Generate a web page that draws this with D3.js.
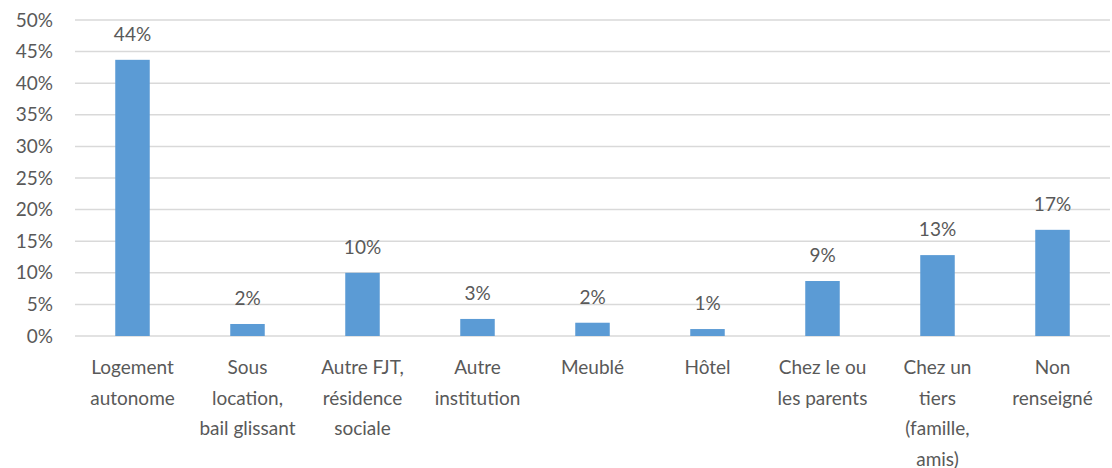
<!DOCTYPE html>
<html>
<head>
<meta charset="utf-8">
<script src="https://cdn.jsdelivr.net/npm/d3@7"></script>
<style>
  body { margin: 0; background: #fff; }
  text { font-family: Lato, "Open Sans", sans-serif; fill: #595959; }
</style>
</head>
<body>
<div id="chart"></div>
<script>
const categories = [
    ["Logement", "autonome"],
    ["Sous", "location,", "bail glissant"],
    ["Autre FJT,", "résidence", "sociale"],
    ["Autre", "institution"],
    ["Meublé"],
    ["Hôtel"],
    ["Chez le ou", "les parents"],
    ["Chez un", "tiers", "(famille,", "amis)"],
    ["Non", "renseigné"]
];
const values = [43.7, 1.9, 10.0, 2.7, 2.1, 1.1, 8.7, 12.8, 16.8];
const yTicks = [0, 5, 10, 15, 20, 25, 30, 35, 40, 45, 50];

const width = 1112, height = 468;
const margin = {top: 20, right: 2, bottom: 132, left: 75};
const fontSize = "19px";

const svg = d3.select("#chart").append("svg")
    .attr("width", width)
    .attr("height", height);

const x = d3.scaleBand()
    .domain(d3.range(categories.length))
    .range([margin.left, width - margin.right])
    .paddingInner(0.7)
    .paddingOuter(0.35);

const y = d3.scaleLinear()
    .domain([0, 50])
    .range([height - margin.bottom, margin.top]);

// grid
svg.append("g")
    .selectAll("line")
    .data(yTicks)
    .join("line")
    .attr("x1", margin.left)
    .attr("x2", width - margin.right)
    .attr("y1", d => y(d))
    .attr("y2", d => y(d))
    .attr("stroke", "#d9d9d9")
    .attr("stroke-width", 1.5);

// y axis labels
const yAxis = svg.append("g")
    .attr("transform", `translate(${margin.left - 22},0)`)
    .call(d3.axisLeft(y).tickValues(yTicks).tickFormat(d => d + "%").tickSize(0));
yAxis.select(".domain").remove();
yAxis.selectAll("text")
    .attr("x", 0)
    .style("font-size", fontSize)
    .style("font-family", "Lato, 'Open Sans', sans-serif")
    .attr("fill", "#595959");

// bars
svg.append("g")
    .selectAll("rect")
    .data(values)
    .join("rect")
    .attr("x", (d, i) => x(i))
    .attr("width", x.bandwidth())
    .attr("y", d => y(d))
    .attr("height", d => y(0) - y(d))
    .attr("fill", "#5b9bd5");

// value labels
svg.append("g")
    .selectAll("text")
    .data(values)
    .join("text")
    .attr("x", (d, i) => x(i) + x.bandwidth() / 2)
    .attr("y", d => y(d) - 19)
    .attr("text-anchor", "middle")
    .style("font-size", fontSize)
    .text(d => Math.round(d) + "%");

// category labels
const cat = svg.append("g")
    .selectAll("text")
    .data(categories)
    .join("text")
    .attr("x", (d, i) => x(i) + x.bandwidth() / 2)
    .attr("y", y(0) + 38)
    .attr("text-anchor", "middle")
    .style("font-size", fontSize);

cat.selectAll("tspan")
    .data(d => d)
    .join("tspan")
    .attr("x", function() { return this.parentNode.getAttribute("x"); })
    .attr("dy", (d, i) => i === 0 ? 0 : 30.5)
    .text(d => d);
</script>
</body>
</html>
